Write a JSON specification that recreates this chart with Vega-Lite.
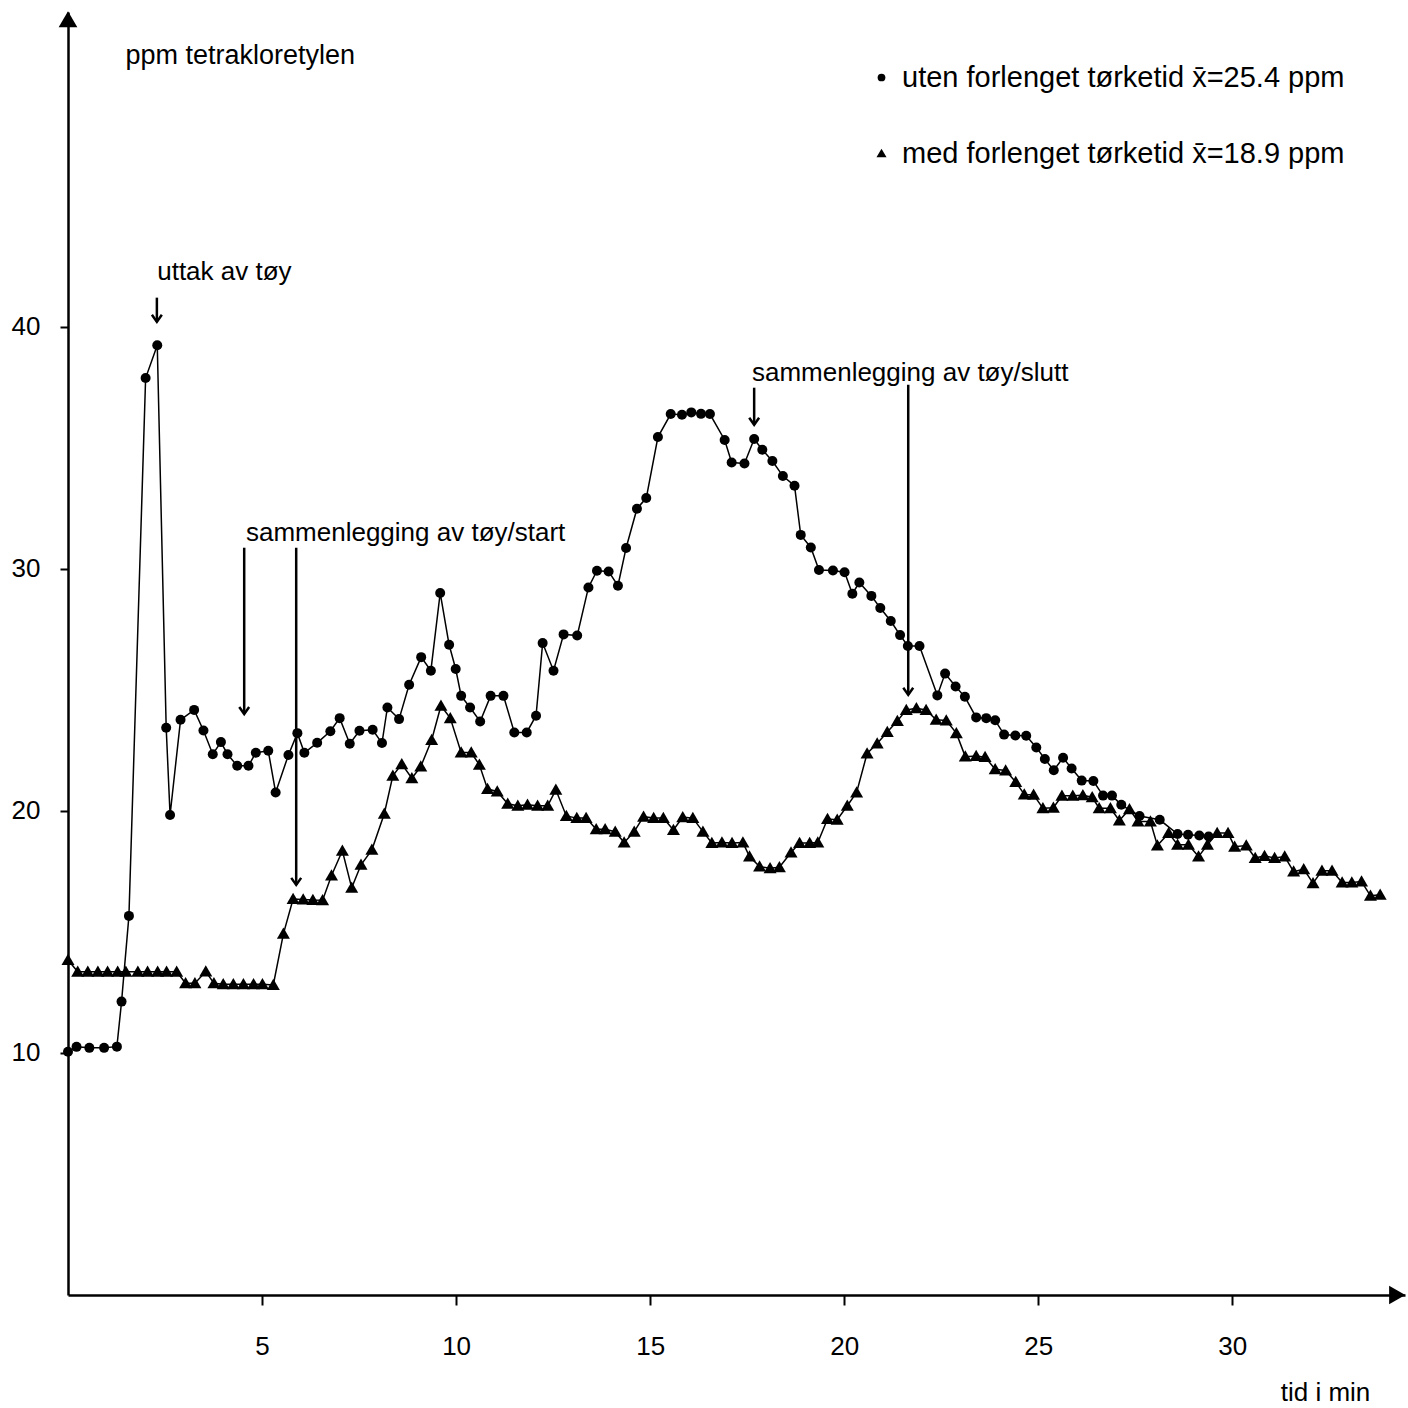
{
  "$schema": "https://vega.github.io/schema/vega-lite/v6.json",
  "width": 1337,
  "height": 1283,
  "autosize": {"type": "none"},
  "padding": {"left": 68, "top": 12, "right": 3, "bottom": 113},
  "background": "white",
  "config": {
    "view": {"stroke": null},
    "font": "Liberation Sans",
    "text": {"font": "Liberation Sans"}
  },
  "datasets": {
    "series": [
      {"t":0.0,"ppm":10.05,"serie":"uten"},{"t":0.22,"ppm":10.25,"serie":"uten"},{"t":0.55,"ppm":10.21,"serie":"uten"},{"t":0.93,"ppm":10.21,"serie":"uten"},{"t":1.26,"ppm":10.26,"serie":"uten"},{"t":1.38,"ppm":12.12,"serie":"uten"},{"t":1.57,"ppm":15.66,"serie":"uten"},{"t":2.0,"ppm":37.88,"serie":"uten"},{"t":2.3,"ppm":39.23,"serie":"uten"},{"t":2.53,"ppm":23.43,"serie":"uten"},{"t":2.63,"ppm":19.83,"serie":"uten"},{"t":2.9,"ppm":23.76,"serie":"uten"},{"t":3.25,"ppm":24.17,"serie":"uten"},{"t":3.49,"ppm":23.32,"serie":"uten"},{"t":3.73,"ppm":22.34,"serie":"uten"},{"t":3.94,"ppm":22.84,"serie":"uten"},{"t":4.11,"ppm":22.34,"serie":"uten"},{"t":4.36,"ppm":21.86,"serie":"uten"},{"t":4.65,"ppm":21.86,"serie":"uten"},{"t":4.84,"ppm":22.4,"serie":"uten"},{"t":5.16,"ppm":22.48,"serie":"uten"},{"t":5.35,"ppm":20.76,"serie":"uten"},{"t":5.68,"ppm":22.31,"serie":"uten"},{"t":5.91,"ppm":23.21,"serie":"uten"},{"t":6.09,"ppm":22.4,"serie":"uten"},{"t":6.42,"ppm":22.81,"serie":"uten"},{"t":6.76,"ppm":23.29,"serie":"uten"},{"t":7.0,"ppm":23.83,"serie":"uten"},{"t":7.26,"ppm":22.77,"serie":"uten"},{"t":7.51,"ppm":23.31,"serie":"uten"},{"t":7.85,"ppm":23.35,"serie":"uten"},{"t":8.09,"ppm":22.8,"serie":"uten"},{"t":8.23,"ppm":24.27,"serie":"uten"},{"t":8.53,"ppm":23.79,"serie":"uten"},{"t":8.79,"ppm":25.21,"serie":"uten"},{"t":9.1,"ppm":26.35,"serie":"uten"},{"t":9.35,"ppm":25.79,"serie":"uten"},{"t":9.59,"ppm":29.0,"serie":"uten"},{"t":9.82,"ppm":26.86,"serie":"uten"},{"t":9.99,"ppm":25.86,"serie":"uten"},{"t":10.13,"ppm":24.75,"serie":"uten"},{"t":10.36,"ppm":24.27,"serie":"uten"},{"t":10.62,"ppm":23.69,"serie":"uten"},{"t":10.89,"ppm":24.75,"serie":"uten"},{"t":11.22,"ppm":24.75,"serie":"uten"},{"t":11.5,"ppm":23.24,"serie":"uten"},{"t":11.82,"ppm":23.24,"serie":"uten"},{"t":12.06,"ppm":23.93,"serie":"uten"},{"t":12.23,"ppm":26.93,"serie":"uten"},{"t":12.51,"ppm":25.79,"serie":"uten"},{"t":12.77,"ppm":27.29,"serie":"uten"},{"t":13.12,"ppm":27.24,"serie":"uten"},{"t":13.41,"ppm":29.23,"serie":"uten"},{"t":13.63,"ppm":29.92,"serie":"uten"},{"t":13.93,"ppm":29.89,"serie":"uten"},{"t":14.17,"ppm":29.3,"serie":"uten"},{"t":14.38,"ppm":30.86,"serie":"uten"},{"t":14.66,"ppm":32.48,"serie":"uten"},{"t":14.9,"ppm":32.92,"serie":"uten"},{"t":15.2,"ppm":35.44,"serie":"uten"},{"t":15.53,"ppm":36.39,"serie":"uten"},{"t":15.82,"ppm":36.36,"serie":"uten"},{"t":16.06,"ppm":36.46,"serie":"uten"},{"t":16.31,"ppm":36.4,"serie":"uten"},{"t":16.54,"ppm":36.39,"serie":"uten"},{"t":16.92,"ppm":35.32,"serie":"uten"},{"t":17.1,"ppm":34.39,"serie":"uten"},{"t":17.43,"ppm":34.35,"serie":"uten"},{"t":17.68,"ppm":35.36,"serie":"uten"},{"t":17.89,"ppm":34.92,"serie":"uten"},{"t":18.15,"ppm":34.45,"serie":"uten"},{"t":18.42,"ppm":33.83,"serie":"uten"},{"t":18.72,"ppm":33.43,"serie":"uten"},{"t":18.88,"ppm":31.4,"serie":"uten"},{"t":19.14,"ppm":30.88,"serie":"uten"},{"t":19.35,"ppm":29.95,"serie":"uten"},{"t":19.71,"ppm":29.93,"serie":"uten"},{"t":20.01,"ppm":29.86,"serie":"uten"},{"t":20.21,"ppm":28.97,"serie":"uten"},{"t":20.39,"ppm":29.43,"serie":"uten"},{"t":20.7,"ppm":28.88,"serie":"uten"},{"t":20.93,"ppm":28.38,"serie":"uten"},{"t":21.2,"ppm":27.84,"serie":"uten"},{"t":21.44,"ppm":27.26,"serie":"uten"},{"t":21.64,"ppm":26.81,"serie":"uten"},{"t":21.94,"ppm":26.81,"serie":"uten"},{"t":22.4,"ppm":24.77,"serie":"uten"},{"t":22.6,"ppm":25.67,"serie":"uten"},{"t":22.87,"ppm":25.14,"serie":"uten"},{"t":23.11,"ppm":24.71,"serie":"uten"},{"t":23.4,"ppm":23.86,"serie":"uten"},{"t":23.66,"ppm":23.83,"serie":"uten"},{"t":23.89,"ppm":23.74,"serie":"uten"},{"t":24.12,"ppm":23.15,"serie":"uten"},{"t":24.41,"ppm":23.11,"serie":"uten"},{"t":24.69,"ppm":23.1,"serie":"uten"},{"t":24.95,"ppm":22.62,"serie":"uten"},{"t":25.17,"ppm":22.14,"serie":"uten"},{"t":25.4,"ppm":21.68,"serie":"uten"},{"t":25.64,"ppm":22.19,"serie":"uten"},{"t":25.86,"ppm":21.75,"serie":"uten"},{"t":26.12,"ppm":21.25,"serie":"uten"},{"t":26.42,"ppm":21.23,"serie":"uten"},{"t":26.67,"ppm":20.63,"serie":"uten"},{"t":26.9,"ppm":20.63,"serie":"uten"},{"t":27.14,"ppm":20.25,"serie":"uten"},{"t":27.61,"ppm":19.79,"serie":"uten"},{"t":28.13,"ppm":19.63,"serie":"uten"},{"t":28.59,"ppm":19.04,"serie":"uten"},{"t":28.86,"ppm":19.01,"serie":"uten"},{"t":29.15,"ppm":18.98,"serie":"uten"},{"t":29.39,"ppm":18.94,"serie":"uten"},
      {"t":0.0,"ppm":13.84,"serie":"med"},{"t":0.25,"ppm":13.35,"serie":"med"},{"t":0.51,"ppm":13.35,"serie":"med"},{"t":0.77,"ppm":13.35,"serie":"med"},{"t":1.02,"ppm":13.35,"serie":"med"},{"t":1.28,"ppm":13.35,"serie":"med"},{"t":1.49,"ppm":13.35,"serie":"med"},{"t":1.8,"ppm":13.35,"serie":"med"},{"t":2.05,"ppm":13.35,"serie":"med"},{"t":2.31,"ppm":13.35,"serie":"med"},{"t":2.54,"ppm":13.35,"serie":"med"},{"t":2.8,"ppm":13.35,"serie":"med"},{"t":3.03,"ppm":12.88,"serie":"med"},{"t":3.27,"ppm":12.88,"serie":"med"},{"t":3.55,"ppm":13.36,"serie":"med"},{"t":3.76,"ppm":12.88,"serie":"med"},{"t":4.0,"ppm":12.84,"serie":"med"},{"t":4.26,"ppm":12.84,"serie":"med"},{"t":4.52,"ppm":12.84,"serie":"med"},{"t":4.78,"ppm":12.84,"serie":"med"},{"t":5.01,"ppm":12.84,"serie":"med"},{"t":5.29,"ppm":12.81,"serie":"med"},{"t":5.55,"ppm":14.92,"serie":"med"},{"t":5.8,"ppm":16.36,"serie":"med"},{"t":6.06,"ppm":16.34,"serie":"med"},{"t":6.31,"ppm":16.32,"serie":"med"},{"t":6.56,"ppm":16.31,"serie":"med"},{"t":6.79,"ppm":17.33,"serie":"med"},{"t":7.07,"ppm":18.35,"serie":"med"},{"t":7.31,"ppm":16.82,"serie":"med"},{"t":7.55,"ppm":17.77,"serie":"med"},{"t":7.83,"ppm":18.39,"serie":"med"},{"t":8.15,"ppm":19.88,"serie":"med"},{"t":8.37,"ppm":21.45,"serie":"med"},{"t":8.6,"ppm":21.93,"serie":"med"},{"t":8.86,"ppm":21.35,"serie":"med"},{"t":9.09,"ppm":21.83,"serie":"med"},{"t":9.37,"ppm":22.93,"serie":"med"},{"t":9.61,"ppm":24.34,"serie":"med"},{"t":9.85,"ppm":23.83,"serie":"med"},{"t":10.13,"ppm":22.41,"serie":"med"},{"t":10.39,"ppm":22.41,"serie":"med"},{"t":10.6,"ppm":21.9,"serie":"med"},{"t":10.81,"ppm":20.9,"serie":"med"},{"t":11.06,"ppm":20.8,"serie":"med"},{"t":11.33,"ppm":20.29,"serie":"med"},{"t":11.59,"ppm":20.21,"serie":"med"},{"t":11.84,"ppm":20.25,"serie":"med"},{"t":12.1,"ppm":20.21,"serie":"med"},{"t":12.36,"ppm":20.21,"serie":"med"},{"t":12.57,"ppm":20.87,"serie":"med"},{"t":12.84,"ppm":19.79,"serie":"med"},{"t":13.11,"ppm":19.7,"serie":"med"},{"t":13.35,"ppm":19.7,"serie":"med"},{"t":13.61,"ppm":19.24,"serie":"med"},{"t":13.84,"ppm":19.24,"serie":"med"},{"t":14.1,"ppm":19.14,"serie":"med"},{"t":14.33,"ppm":18.69,"serie":"med"},{"t":14.59,"ppm":19.14,"serie":"med"},{"t":14.83,"ppm":19.76,"serie":"med"},{"t":15.09,"ppm":19.7,"serie":"med"},{"t":15.34,"ppm":19.7,"serie":"med"},{"t":15.6,"ppm":19.21,"serie":"med"},{"t":15.84,"ppm":19.74,"serie":"med"},{"t":16.1,"ppm":19.7,"serie":"med"},{"t":16.36,"ppm":19.14,"serie":"med"},{"t":16.59,"ppm":18.67,"serie":"med"},{"t":16.85,"ppm":18.69,"serie":"med"},{"t":17.11,"ppm":18.67,"serie":"med"},{"t":17.39,"ppm":18.69,"serie":"med"},{"t":17.56,"ppm":18.11,"serie":"med"},{"t":17.82,"ppm":17.7,"serie":"med"},{"t":18.09,"ppm":17.63,"serie":"med"},{"t":18.33,"ppm":17.67,"serie":"med"},{"t":18.63,"ppm":18.28,"serie":"med"},{"t":18.85,"ppm":18.67,"serie":"med"},{"t":19.11,"ppm":18.67,"serie":"med"},{"t":19.32,"ppm":18.69,"serie":"med"},{"t":19.57,"ppm":19.66,"serie":"med"},{"t":19.82,"ppm":19.63,"serie":"med"},{"t":20.08,"ppm":20.21,"serie":"med"},{"t":20.32,"ppm":20.76,"serie":"med"},{"t":20.59,"ppm":22.37,"serie":"med"},{"t":20.85,"ppm":22.78,"serie":"med"},{"t":21.11,"ppm":23.26,"serie":"med"},{"t":21.37,"ppm":23.71,"serie":"med"},{"t":21.6,"ppm":24.17,"serie":"med"},{"t":21.86,"ppm":24.24,"serie":"med"},{"t":22.11,"ppm":24.17,"serie":"med"},{"t":22.37,"ppm":23.76,"serie":"med"},{"t":22.63,"ppm":23.73,"serie":"med"},{"t":22.89,"ppm":23.21,"serie":"med"},{"t":23.12,"ppm":22.24,"serie":"med"},{"t":23.4,"ppm":22.27,"serie":"med"},{"t":23.63,"ppm":22.22,"serie":"med"},{"t":23.89,"ppm":21.72,"serie":"med"},{"t":24.16,"ppm":21.67,"serie":"med"},{"t":24.42,"ppm":21.19,"serie":"med"},{"t":24.64,"ppm":20.68,"serie":"med"},{"t":24.88,"ppm":20.66,"serie":"med"},{"t":25.12,"ppm":20.11,"serie":"med"},{"t":25.39,"ppm":20.13,"serie":"med"},{"t":25.61,"ppm":20.62,"serie":"med"},{"t":25.89,"ppm":20.62,"serie":"med"},{"t":26.15,"ppm":20.64,"serie":"med"},{"t":26.39,"ppm":20.56,"serie":"med"},{"t":26.57,"ppm":20.11,"serie":"med"},{"t":26.86,"ppm":20.11,"serie":"med"},{"t":27.09,"ppm":19.6,"serie":"med"},{"t":27.35,"ppm":20.07,"serie":"med"},{"t":27.57,"ppm":19.56,"serie":"med"},{"t":27.89,"ppm":19.56,"serie":"med"},{"t":28.07,"ppm":18.57,"serie":"med"},{"t":28.36,"ppm":19.08,"serie":"med"},{"t":28.59,"ppm":18.6,"serie":"med"},{"t":28.87,"ppm":18.6,"serie":"med"},{"t":29.13,"ppm":18.11,"serie":"med"},{"t":29.36,"ppm":18.6,"serie":"med"},{"t":29.61,"ppm":19.08,"serie":"med"},{"t":29.89,"ppm":19.08,"serie":"med"},{"t":30.06,"ppm":18.52,"serie":"med"},{"t":30.36,"ppm":18.57,"serie":"med"},{"t":30.59,"ppm":18.05,"serie":"med"},{"t":30.83,"ppm":18.14,"serie":"med"},{"t":31.09,"ppm":18.05,"serie":"med"},{"t":31.35,"ppm":18.11,"serie":"med"},{"t":31.58,"ppm":17.49,"serie":"med"},{"t":31.84,"ppm":17.59,"serie":"med"},{"t":32.08,"ppm":17.01,"serie":"med"},{"t":32.31,"ppm":17.53,"serie":"med"},{"t":32.57,"ppm":17.53,"serie":"med"},{"t":32.83,"ppm":17.04,"serie":"med"},{"t":33.08,"ppm":17.04,"serie":"med"},{"t":33.33,"ppm":17.08,"serie":"med"},{"t":33.56,"ppm":16.49,"serie":"med"},{"t":33.81,"ppm":16.53,"serie":"med"}
    ],
    "arrows": [
      {"t":2.29,"top":41.2,"tip":40.2},
      {"t":4.54,"top":30.87,"tip":24.0},
      {"t":5.88,"top":30.87,"tip":16.94},
      {"t":17.68,"top":37.48,"tip":35.95},
      {"t":21.65,"top":37.6,"tip":24.79}
    ],
    "notes": [
      {"t":4.03,"y":42.27,"label":"uttak av tøy"},
      {"t":8.7,"y":31.49,"label":"sammenlegging av tøy/start"},
      {"t":21.7,"y":38.1,"label":"sammenlegging av tøy/slutt"}
    ],
    "xend": [{"t":34.25,"ppm":0}],
    "yend": [{"t":0,"ppm":52.7}]
  },
  "layer": [
    {
      "data": {"name": "series"},
      "mark": {"type": "line", "color": "black", "strokeWidth": 1.5},
      "encoding": {
        "x": {
          "field": "t", "type": "quantitative",
          "scale": {"domain": [0, 34.45], "nice": false, "zero": false},
          "axis": {
            "values": [5, 10, 15, 20, 25, 30],
            "grid": false,
            "domainColor": "black", "domainWidth": 2.5,
            "tickColor": "black", "tickWidth": 2, "tickSize": 10,
            "labelFont": "Liberation Sans", "labelFontSize": 26, "labelColor": "black",
            "labelBaseline": "middle", "labelPadding": 41,
            "title": "tid i min",
            "titleFont": "Liberation Sans", "titleFontSize": 26, "titleFontWeight": "normal", "titleColor": "black",
            "titleAnchor": null, "titleAlign": "center", "titleBaseline": "middle",
            "titleX": 1257, "titleY": 97
          }
        },
        "y": {
          "field": "ppm", "type": "quantitative",
          "scale": {"domain": [0, 53], "nice": false},
          "axis": {
            "values": [10, 20, 30, 40],
            "grid": false,
            "domainColor": "black", "domainWidth": 2.5,
            "tickColor": "black", "tickWidth": 2, "tickSize": 8,
            "labelFont": "Liberation Sans", "labelFontSize": 26, "labelColor": "black",
            "labelPadding": 20,
            "title": "ppm tetrakloretylen",
            "titleFont": "Liberation Sans", "titleFontSize": 27, "titleFontWeight": "normal", "titleColor": "black",
            "titleAngle": 0, "titleAnchor": null, "titleAlign": "left", "titleBaseline": "middle",
            "titleX": 57, "titleY": 43
          }
        },
        "detail": {"field": "serie", "type": "nominal"}
      }
    },
    {
      "data": {"name": "series"},
      "mark": {"type": "point", "filled": true, "color": "black", "opacity": 1, "size": 100},
      "encoding": {
        "x": {"field": "t", "type": "quantitative"},
        "y": {"field": "ppm", "type": "quantitative"},
        "shape": {
          "field": "serie", "type": "nominal",
          "scale": {"domain": ["uten", "med"], "range": ["circle", "M-1.3,1L0,-1.25L1.3,1Z"]},
          "legend": {
            "title": null,
            "orient": "none", "legendX": 799, "legendY": 51,
            "labelFont": "Liberation Sans", "labelFontSize": 29, "labelColor": "black",
            "labelOffset": 6, "rowPadding": 46,
            "symbolSize": 60, "symbolFillColor": "black", "symbolStrokeColor": "black",
            "labelLimit": 1000,
            "labelExpr": "datum.value == 'uten' ? 'uten forlenget tørketid x\u0304=25.4 ppm' : 'med forlenget tørketid x\u0304=18.9 ppm'"
          }
        }
      }
    },
    {
      "data": {"name": "arrows"},
      "mark": {"type": "rule", "color": "black", "strokeWidth": 2.5},
      "encoding": {
        "x": {"field": "t", "type": "quantitative"},
        "y": {"field": "top", "type": "quantitative"},
        "y2": {"field": "tip"}
      }
    },
    {
      "data": {"name": "arrows"},
      "mark": {"type": "point", "shape": "M-0.7,-1L0,0L0.7,-1", "filled": false, "color": "black", "strokeWidth": 2.5, "size": 200, "opacity": 1},
      "encoding": {
        "x": {"field": "t", "type": "quantitative"},
        "y": {"field": "tip", "type": "quantitative"}
      }
    },
    {
      "data": {"name": "notes"},
      "mark": {"type": "text", "font": "Liberation Sans", "fontSize": 26, "color": "black", "align": "center", "baseline": "middle"},
      "encoding": {
        "x": {"field": "t", "type": "quantitative"},
        "y": {"field": "y", "type": "quantitative"},
        "text": {"field": "label"}
      }
    },
    {
      "data": {"name": "xend"},
      "mark": {"type": "point", "shape": "triangle-right", "filled": true, "color": "black", "size": 350, "opacity": 1},
      "encoding": {
        "x": {"field": "t", "type": "quantitative"},
        "y": {"field": "ppm", "type": "quantitative"}
      }
    },
    {
      "data": {"name": "yend"},
      "mark": {"type": "point", "shape": "triangle-up", "filled": true, "color": "black", "size": 350, "opacity": 1},
      "encoding": {
        "x": {"field": "t", "type": "quantitative"},
        "y": {"field": "ppm", "type": "quantitative"}
      }
    }
  ]
}
